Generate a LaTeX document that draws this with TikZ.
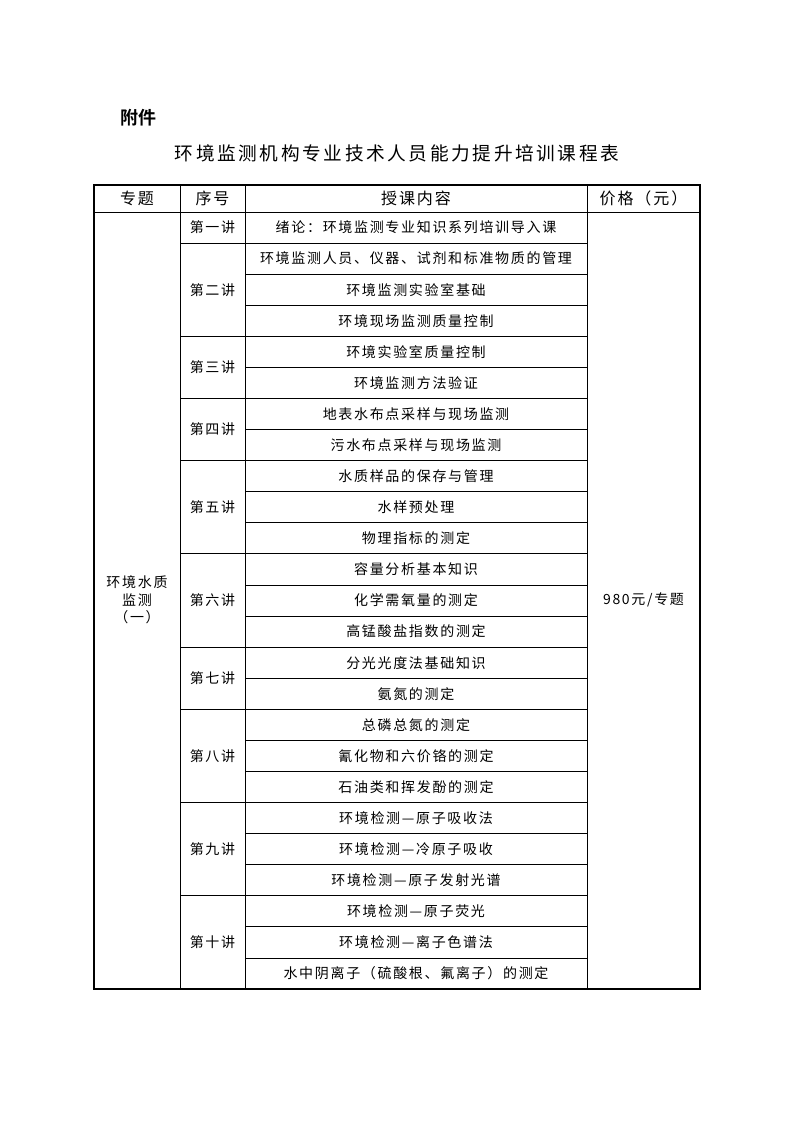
\documentclass[tikz,border=0pt]{standalone}
\usepackage{fontspec}
\setmainfont{Noto Sans CJK SC}[LetterSpace=12]
\newfontfamily\titlefont{Noto Sans CJK SC}[LetterSpace=14]
\newfontfamily\boldcjk{Noto Sans CJK SC Bold}
\begin{document}
\begin{tikzpicture}[x=0.75pt,y=-0.75pt,
  cell/.style={inner sep=0pt,font=\fontsize{10.5pt}{12pt}\selectfont},
  head/.style={inner sep=0pt,font=\fontsize{12pt}{14pt}\selectfont},
  thin/.style={line width=0.6pt},
  thick/.style={line width=1.2pt}]
\useasboundingbox (0,0) rectangle (794,1123);
\node[anchor=west,inner sep=0pt,font=\boldcjk\fontsize{13.5pt}{15pt}\selectfont] (fj) at (120,118) {附件};
\node[inner sep=0pt,font=\titlefont\fontsize{14pt}{16pt}\selectfont] (title) at (397,153) {环境监测机构专业技术人员能力提升培训课程表};
\def\top{185}\def\hb{212}\def\rh{31.08}
\node[head] (h1) at (137,198.5) {专题};
\node[head] (h2) at (212.5,198.5) {序号};
\node[head] (h3) at (416,198.5) {授课内容};
\node[head] (h4) at (643.5,198.5) {价格（元）};
\foreach \t [count=\i] in {绪论：环境监测专业知识系列培训导入课,环境监测人员、仪器、试剂和标准物质的管理,环境监测实验室基础,环境现场监测质量控制,环境实验室质量控制,环境监测方法验证,地表水布点采样与现场监测,污水布点采样与现场监测,水质样品的保存与管理,水样预处理,物理指标的测定,容量分析基本知识,化学需氧量的测定,高锰酸盐指数的测定,分光光度法基础知识,氨氮的测定,总磷总氮的测定,氰化物和六价铬的测定,石油类和挥发酚的测定,环境检测—原子吸收法,环境检测—冷原子吸收,环境检测—原子发射光谱,环境检测—原子荧光,环境检测—离子色谱法,水中阴离子（硫酸根、氟离子）的测定}{
  \node[cell] (c\i) at (416,{\hb+(\i-0.5)*\rh}) {\t};
  \ifnum\i<25 \draw[thin] (245,{\hb+\i*\rh}) -- (587,{\hb+\i*\rh}); \fi
}
\foreach \s/\n/\l [count=\k] in {0/1/第一讲,1/3/第二讲,4/2/第三讲,6/2/第四讲,8/3/第五讲,11/3/第六讲,14/2/第七讲,16/3/第八讲,19/3/第九讲,22/3/第十讲}{
  \node[cell] (g\k) at (212.5,{\hb+(\s+\n/2)*\rh}) {\l};
  \ifnum\k>1 \draw[thin] (180,{\hb+\s*\rh}) -- (245,{\hb+\s*\rh}); \fi
}
\node[cell,align=center] (topic) at (137,600) {环境水质\\[1pt]监测\\[1pt]（一）};
\node[cell] (price) at (643.5,600) {980元/专题};
\draw[thin] (94,\hb) -- (700,\hb);
\draw[thin] (180,\top) -- (180,989);
\draw[thin] (245,\top) -- (245,989);
\draw[thin] (587,\top) -- (587,989);
\draw[thick] (94,\top) rectangle (700,989);
\end{tikzpicture}
\end{document}
